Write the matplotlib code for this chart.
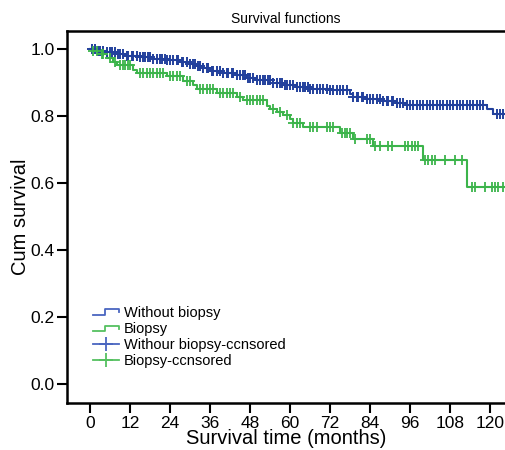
import numpy as np
import matplotlib
matplotlib.use('Agg')
import matplotlib.pyplot as plt
from matplotlib.legend_handler import HandlerBase
from matplotlib.lines import Line2D

plt.rcParams['font.family'] = ['Liberation Sans', 'DejaVu Sans']

# step curves: (time, survival after the step)
blue_t = [0, 2, 5, 8, 11, 15, 19, 23, 27, 30, 32, 34, 36, 40, 44, 47, 50, 55, 58, 62, 66, 72, 78, 79, 83, 88, 92, 95, 119, 121]
blue_s = [1.0, 0.995, 0.990, 0.984, 0.980, 0.976, 0.972, 0.968, 0.963, 0.957, 0.950, 0.943, 0.935, 0.929, 0.922, 0.914, 0.907, 0.900, 0.894, 0.887, 0.882, 0.878, 0.866, 0.857, 0.850, 0.845, 0.840, 0.834, 0.820, 0.806]

green_t = [0, 1, 3, 5, 7, 8, 13, 14, 23, 28, 31, 32, 38, 44, 46, 53, 54, 56, 58, 60, 61, 64, 75, 79, 85, 100, 113]
green_s = [1.0, 0.994, 0.985, 0.973, 0.962, 0.952, 0.937, 0.928, 0.920, 0.905, 0.892, 0.882, 0.870, 0.858, 0.848, 0.830, 0.822, 0.812, 0.803, 0.790, 0.778, 0.767, 0.749, 0.733, 0.710, 0.670, 0.587]

blue_cens = [0.5, 1.5, 2.5, 3, 4, 5, 6, 6.5, 7.5, 8.5, 9, 10, 11, 11.5, 12.5, 13, 14, 15, 16, 16.5, 17.5, 18, 19, 20, 21,
             21.5, 22.5, 23, 24, 25, 26, 26.5, 27.5, 28, 29, 30, 31, 31.5, 32.5, 33, 34, 35, 35.5, 36.5, 37, 38, 39, 40,
             41, 41.5, 42.5, 43, 44, 45, 46, 46.5, 47.5, 48, 49, 50, 51, 52, 52.5, 53.5, 54, 55, 56, 57, 57.5, 58.5, 59,
             60, 61, 62, 63, 64, 64.5, 65.5, 66, 67, 68, 69, 70, 71, 72, 73, 74, 75, 76, 77, 79, 80, 80.5, 81.5, 82, 83,
             84, 85, 86, 87, 88, 89, 89.5, 90.5, 91, 92, 93, 94, 95, 96, 97, 98, 99, 100, 101, 102, 103, 104, 105, 106,
             107, 108, 109, 110, 111, 112, 113, 114, 115, 116, 117, 118, 122, 123, 124]
green_cens = [1, 2, 3.5, 4, 6, 7.5, 9, 10, 10.5, 11.5, 12, 15, 16, 17, 18, 19, 20, 21, 22, 24, 25, 26, 27, 29, 30, 33, 34,
              35, 36, 37, 39, 40, 41, 42, 43, 45, 47, 48, 49, 50, 51, 52, 55, 57, 59, 61, 62, 63, 66, 67, 68, 71, 72, 73,
              75.5, 76.5, 77, 78, 79.5, 83, 84, 85.5, 87, 89.5, 90.5, 94.5, 95.5, 96.5, 97.5, 98.5, 100.5, 101.5, 102.5,
              103.5, 106.5, 109.5, 111.5, 114.5, 115.5, 118.5, 120.5, 121.5, 122.5, 124]

labels = ['Without biopsy', 'Biopsy', 'Withour biopsy-ccnsored', 'Biopsy-ccnsored']
c_blue = '#22409c'
c_green = '#3cb44b'
c_blue_leg = '#4a66c0'
c_green_leg = '#55c060'


def surv_at(times, surv, t):
    i = np.searchsorted(times, t, side='right') - 1
    return np.array(surv)[i]


class StepHandler(HandlerBase):
    def create_artists(self, legend, orig, xd, yd, w, h, fontsize, trans):
        xs = [xd, xd + w * 0.45, xd + w * 0.45, xd + w, xd + w]
        ys = [yd + h * 0.2, yd + h * 0.2, yd + h * 0.7, yd + h * 0.7, yd + h * 0.4]
        return [Line2D(xs, ys, color=orig.get_color(), lw=1.3, transform=trans)]


fig = plt.figure(figsize=(5.05, 4.5), dpi=100)
ax = fig.add_axes([0.1327, 0.1044, 0.8673, 0.8266])

bt = blue_t + [125]
bs = blue_s + [blue_s[-1]]
gt = green_t + [125]
gs = green_s + [green_s[-1]]
ax.step(bt, bs, where='post', color=c_blue, lw=1.5)
ax.step(gt, gs, where='post', color=c_green, lw=1.5)
ax.plot(blue_cens, surv_at(blue_t, blue_s, blue_cens), ls='none', marker='+', ms=7, mew=1.4, color=c_blue)
ax.plot(green_cens, surv_at(green_t, green_s, green_cens), ls='none', marker='+', ms=7, mew=1.3, color=c_green)

ax.set_xlim(-6.9, 124.5)
ax.set_ylim(-0.057, 1.054)
ax.set_xticks(np.arange(0, 121, 12))
ax.set_yticks([0.0, 0.2, 0.4, 0.6, 0.8, 1.0])
ax.set_yticklabels(['0.0', '0.2', '0.4', '0.6', '0.8', '1.0'])
ax.tick_params(direction='out', length=7, width=1.5, labelsize=12.5, pad=2)
for s in ['left', 'bottom', 'top']:
    ax.spines[s].set_linewidth(1.8)
ax.spines['right'].set_visible(False)

ax.set_title('Survival functions', fontsize=10, pad=6)
ax.set_xlabel('Survival time (months)', fontsize=14.5, labelpad=-1)
ax.set_ylabel('Cum survival', fontsize=14.5, labelpad=0.5)

h1 = Line2D([], [], color=c_blue_leg)
h2 = Line2D([], [], color=c_green_leg)
h3 = Line2D([], [], color=c_blue_leg, lw=1.3, marker='+', ms=10, mew=1.3)
h4 = Line2D([], [], color=c_green_leg, lw=1.3, marker='+', ms=10, mew=1.3)
ax.legend([h1, h2, h3, h4], labels, loc='upper left', bbox_to_anchor=(0.059, 0.262), frameon=False,
          borderaxespad=0, borderpad=0, fontsize=10.5, handlelength=1.8, handletextpad=0.35,
          labelspacing=0.15, handler_map={h1: StepHandler(), h2: StepHandler()})

fig.savefig('out.png', dpi=100)
